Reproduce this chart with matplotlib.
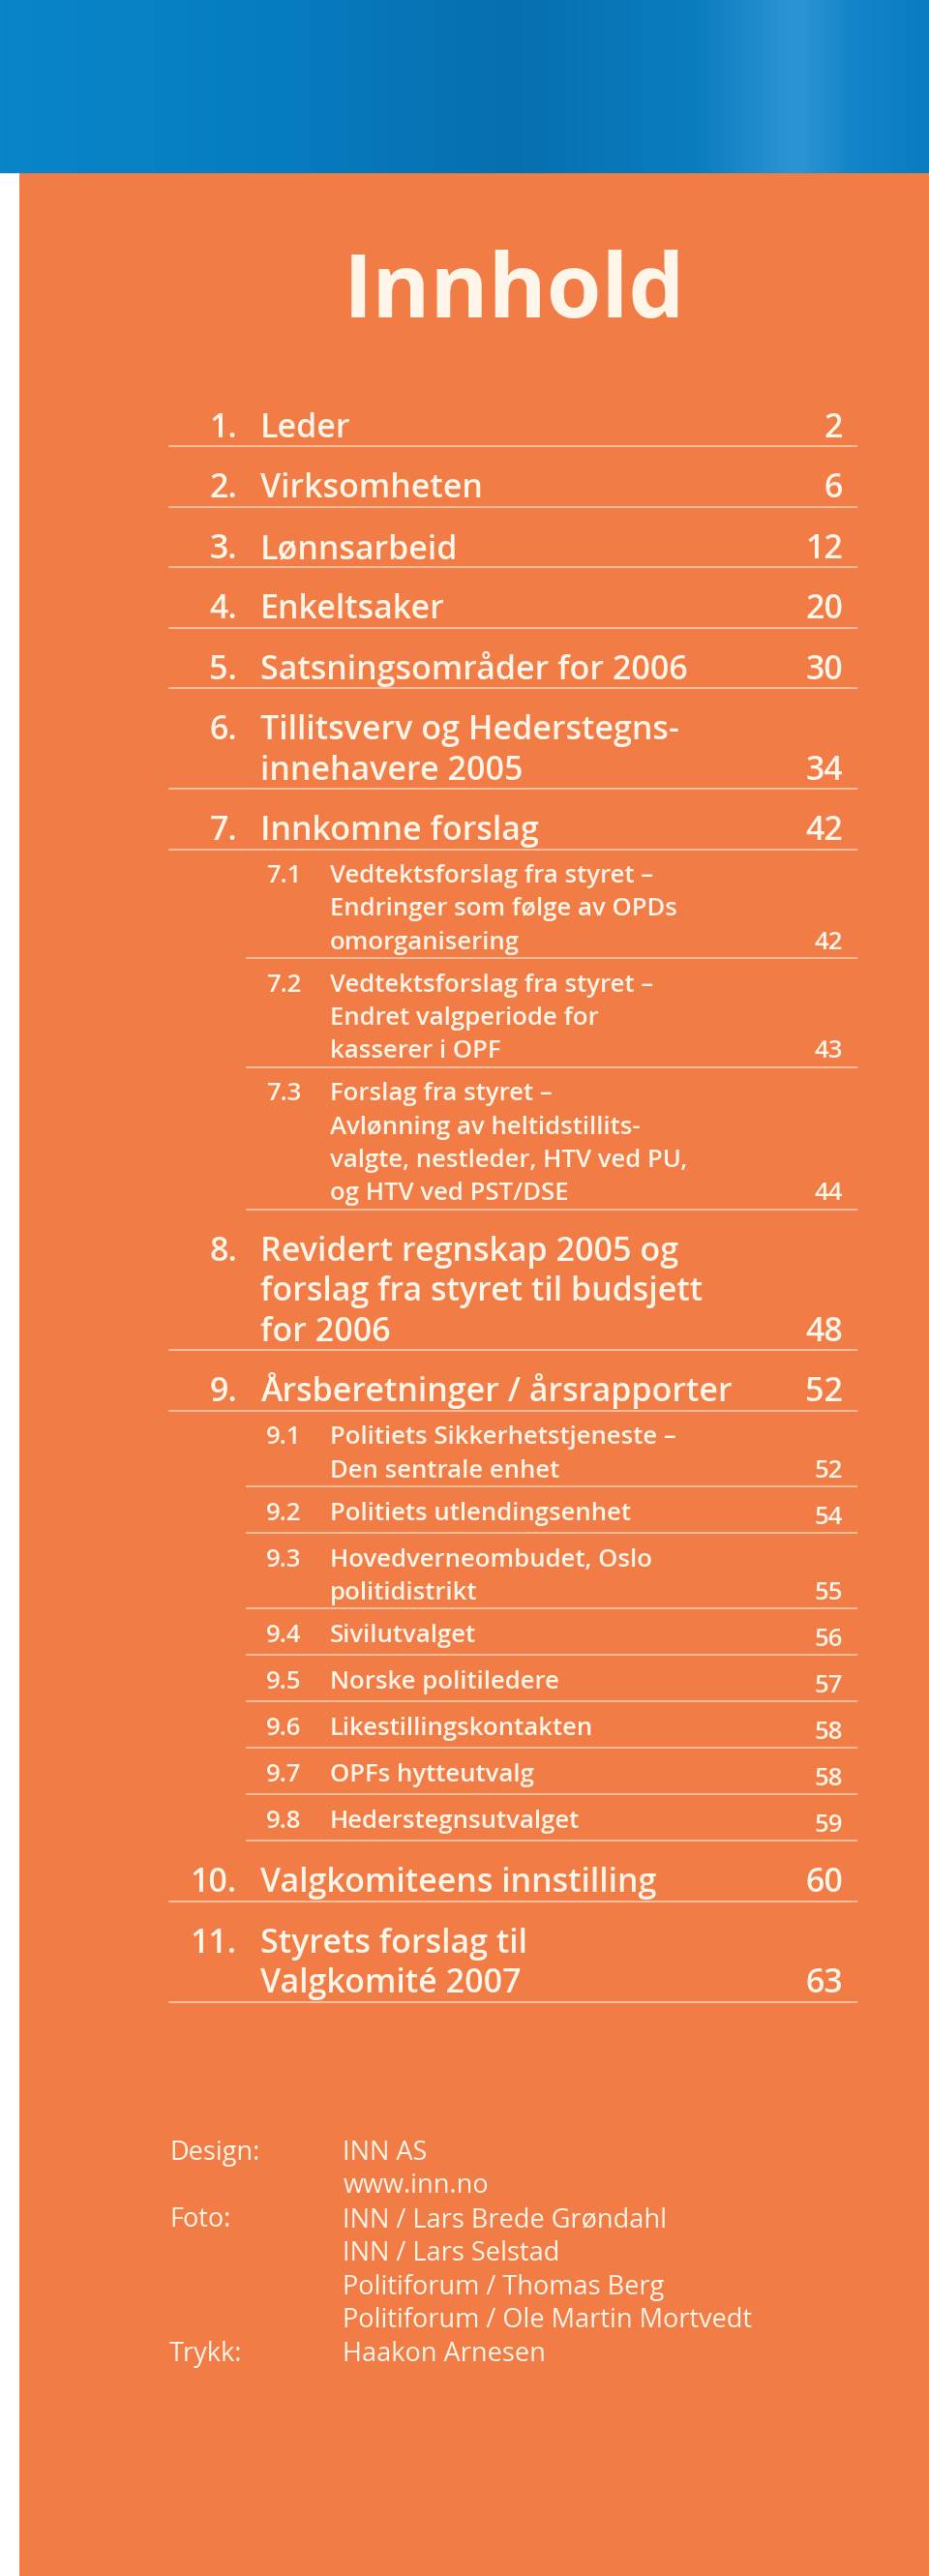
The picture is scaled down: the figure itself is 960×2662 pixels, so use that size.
import numpy as np
import matplotlib
matplotlib.use('Agg')
from matplotlib import pyplot as plt
from matplotlib.patches import Rectangle
from matplotlib.colors import LinearSegmentedColormap

plt.rcParams['font.family'] = ['Open Sans', 'Noto Sans', 'DejaVu Sans']

# table of contents
nums = ['1.', '2.', '3.', '4.', '5.', '6.', '7.', '7.1', '7.2', '7.3', '8.', '9.',
        '9.1', '9.2', '9.3', '9.4', '9.5', '9.6', '9.7', '9.8', '10.', '11.']
titles = ['Leder',
          'Virksomheten',
          'Lønnsarbeid',
          'Enkeltsaker',
          'Satsningsområder for 2006',
          'Tillitsverv og Hederstegns-\ninnehavere 2005',
          'Innkomne forslag',
          'Vedtektsforslag fra styret –\nEndringer som følge av OPDs\nomorganisering',
          'Vedtektsforslag fra styret –\nEndret valgperiode for\nkasserer i OPF',
          'Forslag fra styret –\nAvlønning av heltidstillits-\nvalgte, nestleder, HTV ved PU,\nog HTV ved PST/DSE',
          'Revidert regnskap 2005 og\nforslag fra styret til budsjett\nfor 2006',
          'Årsberetninger / årsrapporter',
          'Politiets Sikkerhetstjeneste –\nDen sentrale enhet',
          'Politiets utlendingsenhet',
          'Hovedverneombudet, Oslo\npolitidistrikt',
          'Sivilutvalget',
          'Norske politiledere',
          'Likestillingskontakten',
          'OPFs hytteutvalg',
          'Hederstegnsutvalget',
          'Valgkomiteens innstilling',
          'Styrets forslag til\nValgkomité 2007']
pages = ['2', '6', '12', '20', '30', '34', '42', '42', '43', '44', '48', '52',
         '52', '54', '55', '56', '57', '58', '58', '59', '60', '63']
levels = [0, 0, 0, 0, 0, 0, 0, 1, 1, 1, 0, 0, 1, 1, 1, 1, 1, 1, 1, 1, 0, 0]

credit_labels = ['Design:', '', 'Foto:', '', '', '', 'Trykk:']
credit_names = ['INN AS', 'www.inn.no', 'INN / Lars Brede Grøndahl', 'INN / Lars Selstad',
                'Politiforum / Thomas Berg', 'Politiforum / Ole Martin Mortvedt', 'Haakon Arnesen']

orange = '#F17C46'
cream = '#FFF5E8'
rule_col = '#FAD2B4'

fig = plt.figure(figsize=(9.6, 26.62), dpi=100)
fig.patch.set_facecolor('white')
ax = fig.add_axes([0, 0, 1, 1])

# blue photo band on top
blue = LinearSegmentedColormap.from_list('band', [(0.0, '#0A85C9'), (0.3, '#067CC0'),
                                                   (0.55, '#066FAF'), (0.75, '#0A7DC0'),
                                                   (0.86, '#2E95D4'), (0.92, '#1384C8'),
                                                   (1.0, '#0A7CC0')])
ax.imshow(np.linspace(0, 1, 256)[None, :], extent=(0, 960, 179, 0), cmap=blue, aspect='auto')
ax.add_patch(Rectangle((20, 179), 940, 2662 - 179, color=orange, lw=0))

ax.text(531, 328, 'Innhold', ha='center', va='baseline', size=66, color=cream,
        fontweight='bold')

y = 451.7 - 53
for num, title, page, lev in zip(nums, titles, pages, levels):
    lines = title.split('\n')
    if lev == 0:
        y += 53
        sp, size, x0 = 41.5, 24.5, 174
        ax.text(245, y, num, ha='right', va='baseline', size=size, color=cream, fontweight='semibold')
        xt = 269
    else:
        y += 34.5
        sp, size, x0 = 34.3, 18.5, 254
        ax.text(275, y, num, ha='left', va='baseline', size=size, color=cream, fontweight='semibold')
        xt = 341
    for i, line in enumerate(lines):
        ax.text(xt, y + i * sp, line, ha='left', va='baseline', size=size, color=cream,
                fontweight='semibold')
    last = y + (len(lines) - 1) * sp
    single_sub = lev == 1 and len(lines) == 1
    ax.text(871, last + (4 if single_sub else 0), page, ha='right', va='baseline', size=size,
            color=cream, fontweight='semibold')
    y = last + (13.5 if single_sub else 9.5)
    ax.plot([x0, 886], [y, y], color=rule_col, lw=1.1, solid_capstyle='butt')

for i, (lab, name) in enumerate(zip(credit_labels, credit_names)):
    yy = 2231.7 + i * 34.7
    ax.text(175, yy, lab, ha='left', va='baseline', size=19.5, color=cream)
    ax.text(354.5, yy, name, ha='left', va='baseline', size=19.5, color=cream)

ax.set_xlim(0, 960)
ax.set_ylim(2662, 0)
ax.axis('off')
fig.savefig('out.png', dpi=100, facecolor='white')
